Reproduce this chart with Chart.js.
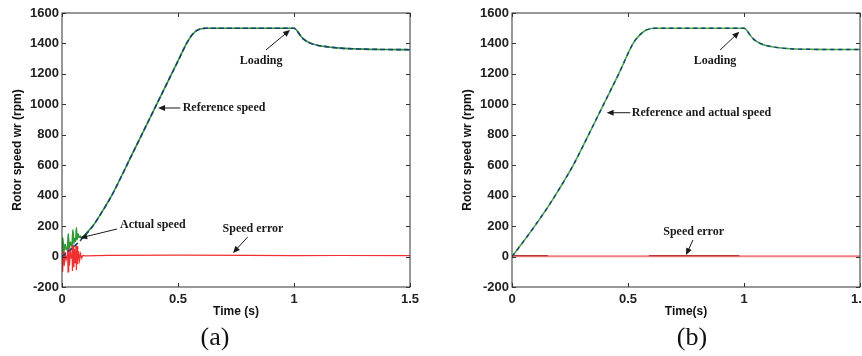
<!DOCTYPE html>
<html lang="en">
<head>
<meta charset="UTF-8">
<title>Rotor speed response</title>
<script src="https://cdn.jsdelivr.net/npm/chart.js@4.4.1/dist/chart.umd.min.js"></script>
<style>
  body { margin: 0; background: #fff; width: 862px; height: 356px; overflow: hidden; position: relative; }
  .panel { position: absolute; top: 0; width: 430px; height: 330px; }
  .cap { position: absolute; top: 322px; width: 80px; text-align: center;
         font-family: "Liberation Serif", "Times New Roman", serif; font-size: 26px; color: #111; }
</style>
</head>
<body>
<div class="panel" style="left:0"><canvas id="chartA"></canvas></div>
<div class="panel" style="left:450px"><canvas id="chartB"></canvas></div>
<div class="cap" style="left:175px">(a)</div>
<div class="cap" style="left:652px">(b)</div>

<script>
// ---- values ----
const yMin = -200, yMax = 1600, yStep = 200;
const xMin = 0, xMax = 1.5, xStep = 0.5;

// (a) reference speed
const tRefA = [0, 0.04, 0.085, 0.135, 0.175, 0.214, 0.3, 0.4, 0.5, 0.537, 0.56, 0.58, 0.6, 0.62, 0.7, 0.8, 0.9, 0.98, 1.0, 1.01, 1.02, 1.04, 1.07, 1.1, 1.15, 1.2, 1.3, 1.4, 1.5];
const refA  = [0, 50, 115, 205, 300, 400, 665, 975, 1285, 1400, 1455, 1484, 1497, 1500, 1500, 1500, 1500, 1500, 1500, 1490, 1468, 1430, 1402, 1388, 1377, 1369, 1363, 1360, 1359];

// (a) actual speed (ringing at start, then tracks)
const tActA = [0, 0.003, 0.008, 0.013, 0.019, 0.024, 0.027, 0.031, 0.036, 0.041, 0.044, 0.047, 0.051, 0.055, 0.059, 0.062, 0.065, 0.069, 0.074, 0.08, 0.085, 0.09, 0.1, 0.135, 0.175, 0.214, 0.3, 0.4, 0.5, 0.537, 0.56, 0.58, 0.6, 0.62, 0.7, 0.8, 0.9, 0.98, 1.0, 1.01, 1.02, 1.04, 1.07, 1.1, 1.15, 1.2, 1.3, 1.4, 1.5];
const actA  = [0, 125, 35, 80, 45, 60, 150, 55, 95, 70, 90, 175, 85, 120, 100, 190, 110, 150, 125, 135, 118, 125, 145, 205, 300, 400, 665, 975, 1285, 1400, 1455, 1484, 1497, 1500, 1500, 1500, 1500, 1500, 1500, 1490, 1468, 1430, 1402, 1388, 1377, 1369, 1363, 1360, 1359];

// (a) speed error
const tErrA = [0, 0.002, 0.004, 0.007, 0.01, 0.014, 0.018, 0.022, 0.024, 0.026, 0.029, 0.032, 0.036, 0.04, 0.043, 0.045, 0.048, 0.051, 0.054, 0.057, 0.06, 0.062, 0.065, 0.068, 0.072, 0.076, 0.08, 0.085, 0.09, 0.1, 0.2, 0.5, 0.8, 1.0, 1.2, 1.5];
const errA  = [0, 90, -100, 70, -60, 30, -20, 5, 80, -100, 70, -60, 30, -10, 90, -95, 75, -70, 50, -40, 80, -90, 70, -50, 35, -25, 18, -10, 8, 4, 8, 10, 8, 6, 7, 6];

// (b) reference and actual speed
const tRefB = [0, 0.05, 0.1, 0.15, 0.2, 0.264, 0.33, 0.395, 0.46, 0.522, 0.55, 0.575, 0.6, 0.62, 0.7, 0.8, 0.9, 0.98, 1.0, 1.01, 1.02, 1.04, 1.07, 1.1, 1.15, 1.2, 1.3, 1.4, 1.5];
const refB  = [0, 100, 205, 315, 435, 600, 800, 1000, 1200, 1400, 1455, 1485, 1498, 1500, 1500, 1500, 1500, 1500, 1500, 1490, 1468, 1430, 1400, 1385, 1372, 1365, 1361, 1360, 1360];

// (b) speed error
const tErrB = [0, 0.155, 0.3, 0.59, 0.98, 1.2, 1.5];
const errB  = [2, 2, 2, 2, 2, 2, 2];
const errBdark = [6, 6, null, 6, 6, null, null];

// annotations, in data units
const notesA = [
  { text: 'Reference speed', x: 0.52, y: 976, align: 'left', from: [0.51, 976], to: [0.414, 976] },
  { text: 'Loading', x: 0.858, y: 1285, align: 'center', from: [0.879, 1357], to: [0.983, 1489] },
  { text: 'Actual speed', x: 0.25, y: 207, align: 'left', from: [0.237, 181], to: [0.078, 122] },
  { text: 'Speed error', x: 0.823, y: 181, align: 'center', from: [0.80, 128], to: [0.737, 23] }
];
const notesB = [
  { text: 'Reference and actual speed', x: 0.516, y: 945, align: 'left', from: [0.51, 945], to: [0.408, 945] },
  { text: 'Loading', x: 0.875, y: 1285, align: 'center', from: [0.897, 1357], to: [0.98, 1477] },
  { text: 'Speed error', x: 0.783, y: 161, align: 'center', from: [0.78, 109], to: [0.75, 10] }
];

const pts = (ts, vs) => ts.map((t, i) => ({ x: t, y: vs[i] }));

// matlab style box with inward ticks
const boxPlugin = {
  id: 'box',
  afterDatasetsDraw(chart) {
    const { ctx, chartArea: a, scales } = chart;
    ctx.save();
    ctx.strokeStyle = '#333';
    ctx.lineWidth = 1;
    ctx.strokeRect(a.left, a.top, a.right - a.left, a.bottom - a.top);
    ctx.beginPath();
    scales.x.ticks.forEach(t => {
      const px = Math.round(scales.x.getPixelForValue(t.value)) + 0.5;
      ctx.moveTo(px, a.bottom); ctx.lineTo(px, a.bottom - 4);
      ctx.moveTo(px, a.top); ctx.lineTo(px, a.top + 4);
    });
    scales.y.ticks.forEach(t => {
      const py = Math.round(scales.y.getPixelForValue(t.value)) + 0.5;
      ctx.moveTo(a.left, py); ctx.lineTo(a.left + 4, py);
      ctx.moveTo(a.right, py); ctx.lineTo(a.right - 4, py);
    });
    ctx.stroke();
    ctx.restore();
  }
};

// text labels with arrows
const notePlugin = {
  id: 'notes',
  afterDraw(chart, args, opts) {
    const { ctx, scales: { x, y } } = chart;
    ctx.save();
    ctx.fillStyle = '#1a1a1a';
    ctx.strokeStyle = '#1a1a1a';
    ctx.lineWidth = 1;
    ctx.font = 'bold 12px "Liberation Serif", "Times New Roman", serif';
    ctx.textBaseline = 'middle';
    (opts.items || []).forEach(n => {
      ctx.textAlign = n.align;
      ctx.fillText(n.text, x.getPixelForValue(n.x), y.getPixelForValue(n.y));
      const x0 = x.getPixelForValue(n.from[0]), y0 = y.getPixelForValue(n.from[1]);
      const x1 = x.getPixelForValue(n.to[0]), y1 = y.getPixelForValue(n.to[1]);
      const ang = Math.atan2(y1 - y0, x1 - x0);
      ctx.beginPath();
      ctx.moveTo(x0, y0);
      ctx.lineTo(x1 - 5 * Math.cos(ang), y1 - 5 * Math.sin(ang));
      ctx.stroke();
      ctx.beginPath();
      ctx.moveTo(x1, y1);
      ctx.lineTo(x1 - 7 * Math.cos(ang) + 3 * Math.sin(ang), y1 - 7 * Math.sin(ang) - 3 * Math.cos(ang));
      ctx.lineTo(x1 - 7 * Math.cos(ang) - 3 * Math.sin(ang), y1 - 7 * Math.sin(ang) + 3 * Math.cos(ang));
      ctx.closePath();
      ctx.fill();
    });
    ctx.restore();
  }
};

const tickFont = { family: '"Liberation Sans", Arial, sans-serif', size: 13, weight: 'bold' };
const titleFont = { family: '"Liberation Sans", Arial, sans-serif', size: 12, weight: 'bold' };

function makeOptions(xTitle, notes) {
  return {
    responsive: true,
    maintainAspectRatio: false,
    animation: false,
    layout: { padding: { top: 13, right: 20, bottom: 0, left: 0 } },
    plugins: { legend: { display: false }, tooltip: { enabled: false }, notes: { items: notes } },
    elements: { point: { radius: 0 } },
    scales: {
      x: {
        type: 'linear', min: xMin, max: xMax,
        ticks: { stepSize: xStep, color: '#222', font: tickFont, padding: 5, maxRotation: 0, callback: v => String(v) },
        grid: { display: false, drawTicks: false },
        border: { display: false },
        title: { display: true, text: xTitle, color: '#111', font: titleFont, padding: { top: 4, bottom: 11 } },
        afterFit: s => { s.height = 43; }
      },
      y: {
        min: yMin, max: yMax,
        ticks: { stepSize: yStep, color: '#222', font: tickFont, padding: 3, callback: v => String(v) },
        grid: { display: false, drawTicks: false },
        border: { display: false },
        title: { display: true, text: 'Rotor speed wr (rpm)', color: '#111', font: titleFont, padding: { top: 10, bottom: 0 } },
        afterFit: s => { s.width = 62; }
      }
    }
  };
}

new Chart(document.getElementById('chartA'), {
  type: 'line',
  data: {
    datasets: [
      { label: 'Reference speed', data: pts(tRefA, refA), borderColor: '#1d3f78', borderWidth: 1.6, borderDash: [5, 3], cubicInterpolationMode: 'monotone' },
      { label: 'Actual speed', data: pts(tActA, actA), borderColor: '#2f9a35', borderWidth: 1.6, cubicInterpolationMode: 'monotone' },
      { label: 'Speed error', data: pts(tErrA, errA), borderColor: '#f03030', borderWidth: 1.2 }
    ]
  },
  options: makeOptions('Time (s)', notesA),
  plugins: [boxPlugin, notePlugin]
});

new Chart(document.getElementById('chartB'), {
  type: 'line',
  data: {
    datasets: [
      { label: 'Reference speed', data: pts(tRefB, refB), borderColor: '#1d3f78', borderWidth: 1.4, borderDash: [4, 4], cubicInterpolationMode: 'monotone' },
      { label: 'Actual speed', data: pts(tRefB, refB), borderColor: '#45a84a', borderWidth: 1.6, cubicInterpolationMode: 'monotone' },
      { label: 'Speed error (dark)', data: pts(tErrB, errBdark), borderColor: '#b83a3a', borderWidth: 1.2, spanGaps: false },
      { label: 'Speed error', data: pts(tErrB, errB), borderColor: '#f28080', borderWidth: 2 }
    ]
  },
  options: makeOptions('Time(s)', notesB),
  plugins: [boxPlugin, notePlugin]
});
</script>
</body>
</html>
